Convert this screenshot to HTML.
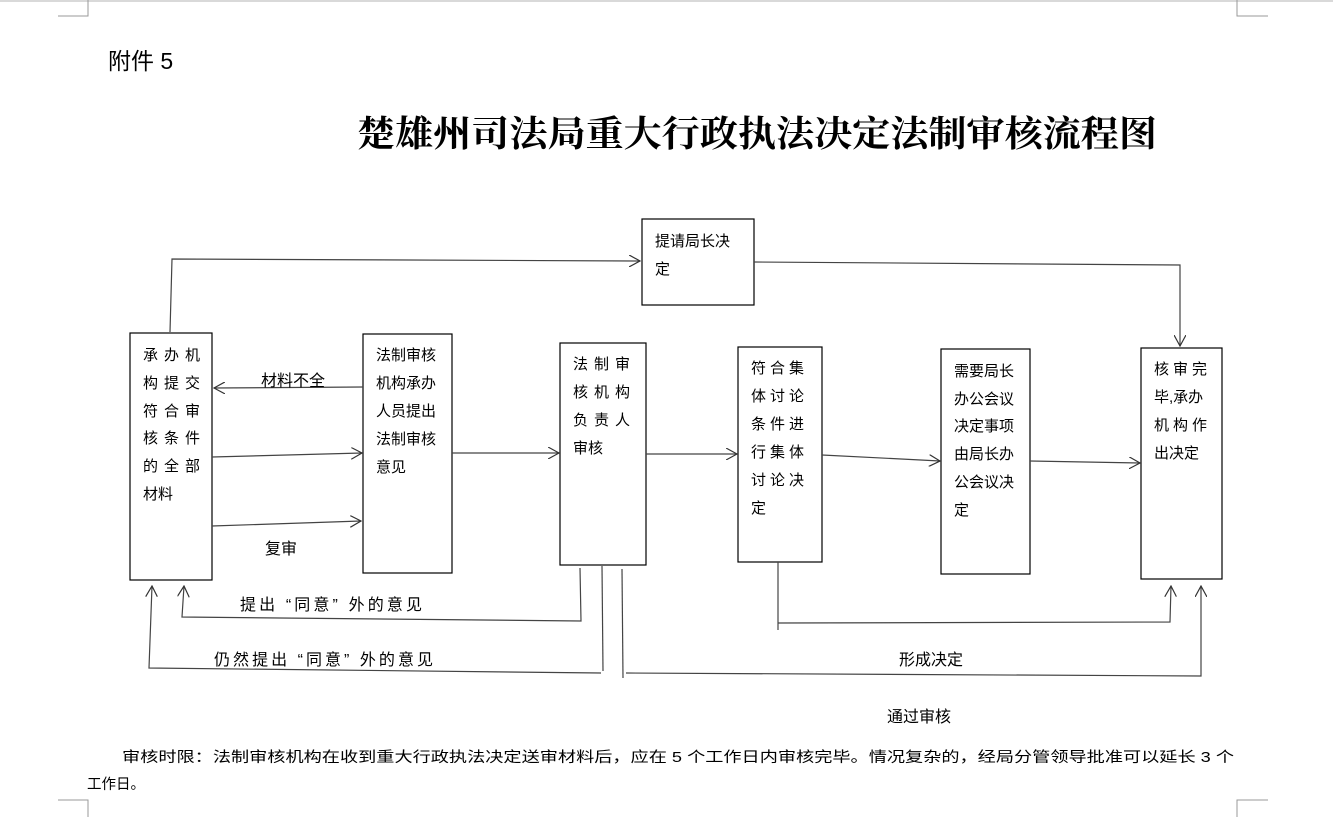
<!DOCTYPE html>
<html><head><meta charset="utf-8"><style>
html,body{margin:0;padding:0;background:#fff;}
svg{display:block;}
text{font-family:"Liberation Sans","Noto Sans CJK SC","WenQuanYi Zen Hei",sans-serif;fill:#000;}
.t{font-size:15px;}
.b{font-size:14.5px;}
</style></head><body>
<svg width="1333" height="817" viewBox="0 0 1333 817" xmlns="http://www.w3.org/2000/svg">
<defs>
<marker id="a" viewBox="0 0 12 12" refX="11" refY="6" markerWidth="12" markerHeight="12" markerUnits="userSpaceOnUse" orient="auto">
<path d="M0,0 L11,6 L0,12" fill="none" stroke="#333" stroke-width="1.2"/>
</marker>
</defs>
<rect x="0" y="0" width="1333" height="2" fill="#d9d9d9"/>
<g stroke="#999" stroke-width="1" fill="none">
<path d="M88,0V16H58"/><path d="M1237,0V16H1268"/>
<path d="M58,800H88V817"/><path d="M1268,800H1237V817"/>
</g>
<text x="108" y="69" style="font-size:23px">附件 5</text>
<text x="357" y="146" textLength="800" lengthAdjust="spacingAndGlyphs" style="font-size:36px;font-weight:bold;font-family:'Liberation Serif','Noto Serif CJK SC',serif">楚雄州司法局重大行政执法决定法制审核流程图</text>

<g fill="none" stroke="#000" stroke-width="1.2">
<rect x="642" y="219" width="112" height="86"/>
<rect x="130" y="333" width="82" height="247"/>
<rect x="363" y="334" width="89" height="239"/>
<rect x="560" y="343" width="86" height="222"/>
<rect x="738" y="347" width="84" height="215"/>
<rect x="941" y="349" width="89" height="225"/>
<rect x="1141" y="348" width="81" height="231"/>
</g>

<g fill="none" stroke="#444" stroke-width="1.2">
<path d="M170,332 L172,259 L640,261" marker-end="url(#a)"/>
<path d="M754,262 L1180,265 L1180,346" marker-end="url(#a)"/>
<path d="M363,387 L214,388" marker-end="url(#a)"/>
<path d="M212,457 L362,453" marker-end="url(#a)"/>
<path d="M212,526 L361,521" marker-end="url(#a)"/>
<path d="M452,453 L559,453" marker-end="url(#a)"/>
<path d="M646,454 L737,454" marker-end="url(#a)"/>
<path d="M822,455 L940,461" marker-end="url(#a)"/>
<path d="M1030,461 L1140,463" marker-end="url(#a)"/>
<path d="M580,568 L581,621 L182,617 L184,586" marker-end="url(#a)"/>
<path d="M602,566 L603,671"/>
<path d="M601,673 L149,668 L152,586" marker-end="url(#a)"/>
<path d="M622,569 L623,678"/>
<path d="M626,673 L1201,676 L1201,586" marker-end="url(#a)"/>
<path d="M778,562 L778,630"/>
<path d="M778,623 L1170,622 L1171,586" marker-end="url(#a)"/>
</g>

<g class="t">
<text x="655" y="246">提请局长决</text>
<text x="655" y="274">定</text>

<text x="143" y="360" letter-spacing="6">承办机</text>
<text x="143" y="388" letter-spacing="6">构提交</text>
<text x="143" y="416" letter-spacing="6">符合审</text>
<text x="143" y="443" letter-spacing="6">核条件</text>
<text x="143" y="471" letter-spacing="6">的全部</text>
<text x="143" y="499">材料</text>

<text x="376" y="360">法制审核</text>
<text x="376" y="388">机构承办</text>
<text x="376" y="416">人员提出</text>
<text x="376" y="444">法制审核</text>
<text x="376" y="472">意见</text>

<text x="573" y="369" letter-spacing="6">法制审</text>
<text x="573" y="397" letter-spacing="6">核机构</text>
<text x="573" y="425" letter-spacing="6">负责人</text>
<text x="573" y="453">审核</text>

<text x="751" y="373" letter-spacing="4">符合集</text>
<text x="751" y="401" letter-spacing="4">体讨论</text>
<text x="751" y="429" letter-spacing="4">条件进</text>
<text x="751" y="457" letter-spacing="4">行集体</text>
<text x="751" y="485" letter-spacing="4">讨论决</text>
<text x="751" y="513">定</text>

<text x="954" y="376">需要局长</text>
<text x="954" y="404">办公会议</text>
<text x="954" y="431">决定事项</text>
<text x="954" y="459">由局长办</text>
<text x="954" y="487">公会议决</text>
<text x="954" y="515">定</text>

<text x="1154" y="374" letter-spacing="4">核审完</text>
<text x="1154" y="402">毕,承办</text>
<text x="1154" y="430" letter-spacing="4">机构作</text>
<text x="1154" y="458">出决定</text>
</g>

<g style="font-size:16px">
<text x="261" y="386">材料不全</text>
<text x="265" y="554">复审</text>
<text x="240" y="610" textLength="182" lengthAdjust="spacing">提出 “同意” 外的意见</text>
<text x="214" y="665" textLength="219" lengthAdjust="spacing">仍然提出 “同意” 外的意见</text>
<text x="899" y="665">形成决定</text>
<text x="887" y="722">通过审核</text>
</g>

<text x="122" y="762" class="b" textLength="1112" lengthAdjust="spacingAndGlyphs">审核时限：法制审核机构在收到重大行政执法决定送审材料后，应在 5 个工作日内审核完毕。情况复杂的，经局分管领导批准可以延长 3 个</text>
<text x="87" y="789" class="b">工作日。</text>
</svg>
</body></html>
